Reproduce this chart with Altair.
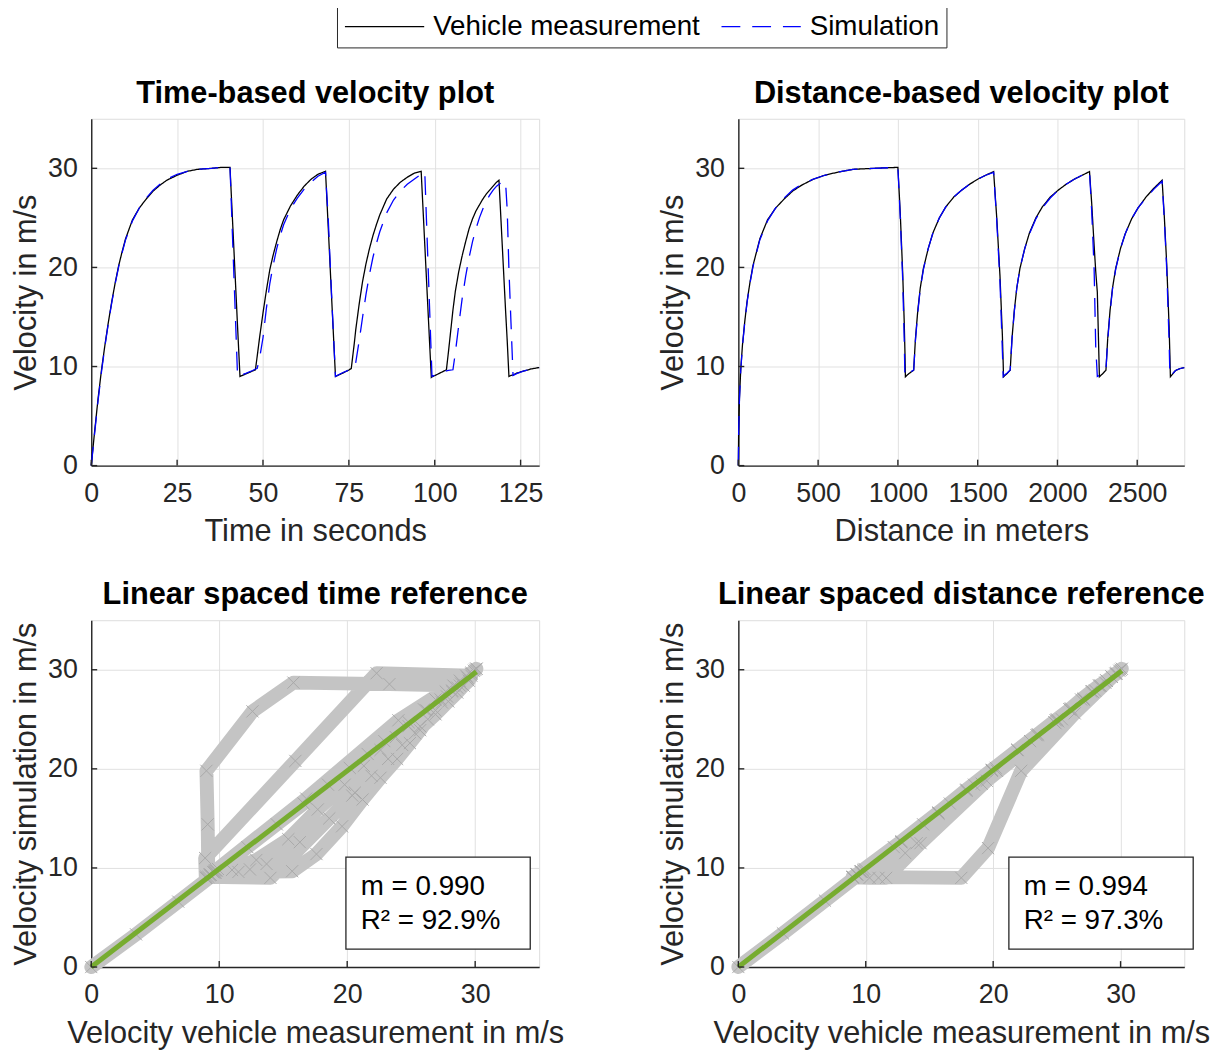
import altair as alt
import pandas as pd

# ---------------- data ----------------
series_names = ["Vehicle measurement", "Simulation"]

time_s = [0, 1, 2, 3, 4, 5, 6, 7, 8, 9, 10, 12, 14, 16, 18, 20, 22, 25, 28, 31, 35, 38, 40.4,
          41.0, 41.7, 42.6, 43.3,
          45, 47, 47.8, 48.3,
          49, 50, 51, 52, 53, 54, 55, 56, 58, 60, 62, 64, 66, 68.2,
          69, 70, 71.1,
          73, 75, 75.7, 76.6,
          77, 78, 79, 80, 81, 82, 83, 84, 86, 88, 90, 92, 94, 96.05,
          97.1, 98, 99.0, 99.2,
          101, 103.4, 104, 105.3,
          106, 107, 108, 109, 110, 111, 112, 113, 114, 115, 116, 117, 118, 118.7,
          119.5, 120.6, 121.1, 121.6, 122.2, 122.8,
          124, 126, 128, 130.4]
meas_time = [0, 3.5, 6.8, 9.7, 12.2, 14.5, 16.6, 18.5, 20.2, 21.6, 22.9, 24.8, 26.0, 26.9, 27.7, 28.3, 28.8, 29.3, 29.7, 29.9, 30.0, 30.1, 30.1,
             25.7, 20.6, 14.0, 9.0,
             9.25, 9.55, 9.67, 11.0,
             12.9, 15.4, 17.7, 19.8, 21.3, 22.6, 23.8, 24.8, 26.2, 27.3, 28.2, 28.9, 29.4, 29.7,
             24.0, 16.8, 9.0,
             9.3, 9.65, 9.8, 12.4,
             13.7, 16.3, 18.6, 20.4, 21.9, 23.2, 24.3, 25.3, 26.9, 27.9, 28.6, 29.1, 29.5, 29.7,
             22.3, 15.95, 8.9, 8.95,
             9.25, 9.67, 11.5, 15.7,
             17.6, 19.6, 21.2, 22.6, 23.9, 24.9, 25.7, 26.3, 26.9, 27.4, 27.8, 28.2, 28.6, 28.8,
             23.3, 15.8, 12.6, 9.0, 9.1, 9.15,
             9.35, 9.55, 9.75, 9.9]
sim_time = [0, 3.3, 6.6, 9.5, 12.1, 14.4, 16.5, 18.4, 20.1, 21.5, 22.8, 24.7, 26.0, 27.0, 27.8, 28.4, 28.9, 29.4, 29.7, 29.9, 30.0, 30.1, 30.1,
            24.3, 17.6, 9.0, 9.1,
            9.3, 9.6, 9.75, 9.8,
            10.8, 12.9, 15.9, 18.4, 20.3, 21.9, 23.2, 24.3, 25.9, 27.0, 27.9, 28.6, 29.2, 29.6,
            24.9, 17.0, 9.0,
            9.35, 9.65, 9.75, 9.85,
            10.4, 12.6, 15.0, 17.3, 19.3, 21.0, 22.4, 23.6, 25.5, 26.8, 27.7, 28.4, 28.9, 29.4,
            29.65, 20.8, 11.0, 9.0,
            9.3, 9.55, 9.6, 9.67,
            11.4, 14.2, 16.9, 19.1, 21.0, 22.6, 23.9, 25.0, 25.9, 26.7, 27.3, 27.8, 28.2, 28.4,
            28.55, 28.7, 25.8, 19.8, 14.4, 9.1,
            9.3, 9.55, 9.75, 9.9]

dist_m = [0, 2, 7, 15, 26, 40, 55, 73, 92, 135, 183, 234, 287, 340, 397, 470, 541, 620, 719, 850, 1000,
          1015, 1030, 1040, 1044, 1047,
          1070, 1099,
          1110, 1125, 1140, 1160, 1190, 1220, 1260, 1300, 1350, 1400, 1450, 1500, 1550, 1600,
          1620, 1640, 1655, 1660, 1662,
          1685, 1704,
          1715, 1730, 1745, 1765, 1795, 1825, 1865, 1905, 1955, 2005, 2055, 2105, 2155, 2201,
          2215, 2230, 2240, 2250, 2263,
          2285, 2304,
          2315, 2330, 2345, 2365, 2395, 2425, 2465, 2505, 2555, 2605, 2656,
          2670, 2685, 2700, 2705, 2708,
          2740, 2770, 2795]
meas_dist = [0, 3.5, 6.8, 9.7, 12.2, 14.5, 16.6, 18.5, 20.2, 22.9, 24.8, 26.0, 26.9, 27.7, 28.3, 28.9, 29.3, 29.6, 29.9, 30.0, 30.1,
             25.4, 19.5, 14.3, 11.6, 8.97,
             9.3, 9.63,
             12.8, 15.7, 17.9, 19.9, 21.9, 23.5, 25.0, 26.1, 27.1, 27.8, 28.4, 28.9, 29.3, 29.67,
             24.9, 19.1, 13.1, 10.3, 8.97,
             9.3, 9.63,
             12.8, 15.7, 17.9, 19.9, 21.9, 23.5, 25.0, 26.1, 27.1, 27.8, 28.4, 28.9, 29.3, 29.67,
             26.4, 22.2, 19.6, 17.5, 8.97,
             9.3, 9.63,
             12.8, 15.7, 17.9, 19.9, 21.9, 23.4, 24.9, 26.0, 27.1, 28.0, 28.8,
             25.1, 20.3, 14.0, 11.0, 8.97,
             9.6, 9.8, 9.9]
sim_dist = [0, 3.4, 6.7, 9.6, 12.1, 14.4, 16.5, 18.4, 20.1, 22.8, 24.7, 26.0, 27.0, 27.8, 28.4, 28.9, 29.3, 29.6, 29.9, 30.0, 30.1,
            25.0, 18.8, 12.5, 9.0, 9.05,
            9.35, 9.65,
            12.6, 15.5, 17.8, 19.8, 21.9, 23.5, 25.0, 26.1, 27.1, 27.8, 28.4, 28.9, 29.3, 29.6,
            24.6, 18.5, 11.5, 9.0, 9.05,
            9.35, 9.65,
            12.7, 15.6, 17.9, 19.9, 21.9, 23.4, 24.9, 26.0, 27.0, 27.8, 28.4, 28.9, 29.3, 29.67,
            25.6, 19.8, 12.0, 9.0, 9.1,
            9.35, 9.65,
            12.6, 15.5, 17.8, 19.8, 21.9, 23.4, 24.9, 26.0, 27.0, 27.9, 28.7,
            24.8, 19.8, 12.5, 9.0, 9.05,
            9.6, 9.8, 9.9]

time_ticks = [0, 25, 50, 75, 100, 125]
dist_ticks = [0, 500, 1000, 1500, 2000, 2500]
vel_ticks = [0, 10, 20, 30]

fit_x_time = [0.0, 30.1]
fit_y_time = [0.0, 29.8]
fit_x_dist = [0.0, 30.1]
fit_y_dist = [0.0, 29.9]
slopes = [0.990, 0.994]
r2_percent = [92.9, 97.3]

# ---------------- styling ----------------
FONT = "Liberation Sans"
AX = "#262626"
GRID = "#e1e1e1"
H = 350
W_LEFT = 452
W_RIGHT = 450


def make_axis(title, values, orient):
    common = dict(title=title, values=values, grid=True, gridColor=GRID, gridWidth=1,
                  ticks=False, domainColor=AX, domainWidth=1.4, format="d",
                  labelFont=FONT, labelFontSize=27, labelColor=AX, labelFlush=False,
                  labelOverlap=False, titleFont=FONT, titleFontSize=31,
                  titleFontWeight="normal", titleColor=AX)
    if orient == "x":
        common.update(labelPadding=15, titlePadding=11)
    else:
        common.update(labelPadding=14, titlePadding=5)
    return alt.Axis(**common)


def tick_layers(xticks, yticks, xscale, yscale, xfield, yfield):
    xt = alt.Chart(pd.DataFrame({xfield: xticks})).mark_rule(color=AX, strokeWidth=1.4).encode(
        x=alt.X(f"{xfield}:Q", scale=xscale), y=alt.value(H), y2=alt.value(H - 6))
    yt = alt.Chart(pd.DataFrame({yfield: yticks})).mark_rule(color=AX, strokeWidth=1.4).encode(
        y=alt.Y(f"{yfield}:Q", scale=yscale), x=alt.value(0), x2=alt.value(6))
    return xt, yt


def title_params(text):
    return alt.TitleParams(text=text, font=FONT, fontSize=31, fontWeight="bold", color="#000000",
                           anchor="middle", offset=9)


legend = alt.Legend(orient="none", legendX=248, legendY=-114, direction="horizontal", title=None,
                    symbolType="M-1,0L1,0", symbolSize=6400, symbolStrokeWidth=1.3,
                    labelFont=FONT, labelFontSize=28, labelColor="#000000", labelOffset=8,
                    columnPadding=20, padding=7, strokeColor=AX, fillColor="#ffffff",
                    labelLimit=400, clipHeight=28)


def velocity_panel(x, meas, sim, xdomain, xticks, title, xtitle, width):
    rows = [{"x": a, "v": b, "series": series_names[0]} for a, b in zip(x, meas)]
    rows += [{"x": a, "v": b, "series": series_names[1]} for a, b in zip(x, sim)]
    df = pd.DataFrame(rows)
    xs = alt.Scale(domain=xdomain, nice=False, zero=False)
    ys = alt.Scale(domain=[0, 35], nice=False)
    lines = alt.Chart(df).mark_line(strokeWidth=1.3).encode(
        x=alt.X("x:Q", scale=xs, axis=make_axis(xtitle, xticks, "x")),
        y=alt.Y("v:Q", scale=ys, axis=make_axis("Velocity in m/s", vel_ticks, "y")),
        color=alt.Color("series:N", scale=alt.Scale(domain=series_names, range=["#000000", "#0000ff"]),
                        legend=legend),
        strokeDash=alt.StrokeDash("series:N", scale=alt.Scale(domain=series_names, range=[[1, 0], [19, 12]]),
                                  legend=legend),
    )
    xt, yt = tick_layers(xticks, vel_ticks, xs, ys, "x", "v")
    return alt.layer(lines, xt, yt).properties(width=width, height=H, title=title_params(title))


def scatter_panel(meas, sim, fit_x, fit_y, slope, r2, title, width, box_left):
    df = pd.DataFrame({"mx": meas, "sy": sim, "i": list(range(len(meas)))})
    xs = alt.Scale(domain=[0, 35], nice=False)
    ys = alt.Scale(domain=[0, 35], nice=False)
    X = alt.X("mx:Q", scale=xs, axis=make_axis("Velocity vehicle measurement in m/s", vel_ticks, "x"))
    Y = alt.Y("sy:Q", scale=ys, axis=make_axis("Velocity simulation in m/s", vel_ticks, "y"))
    band = alt.Chart(df).mark_line(color="#c4c4c4", strokeWidth=14, strokeCap="round",
                                   strokeJoin="round").encode(x=X, y=Y, order="i:Q")
    pts = alt.Chart(df).mark_point(shape="M-1,-1L1,1M-1,1L1,-1", size=150, filled=False,
                                   color="#a8a8a8", strokeWidth=1, opacity=1).encode(x=X, y=Y)
    fit = alt.Chart(pd.DataFrame({"mx": fit_x, "sy": fit_y})).mark_line(
        color="#77AC30", strokeWidth=5).encode(x=X, y=Y)
    stats = pd.DataFrame({"m": [f"m = {slope:.3f}"], "r": [f"R\u00b2 = {r2:.1f}%"]})
    box = alt.Chart(stats).mark_rect(fill="#ffffff", stroke=AX, strokeWidth=1.3).encode(
        x=alt.value(box_left), x2=alt.value(box_left + 186), y=alt.value(239), y2=alt.value(332))
    t1 = alt.Chart(stats).mark_text(align="left", baseline="alphabetic", font=FONT, fontSize=28,
                                    color="#000000").encode(x=alt.value(box_left + 15), y=alt.value(277), text="m:N")
    t2 = alt.Chart(stats).mark_text(align="left", baseline="alphabetic", font=FONT, fontSize=28,
                                    color="#000000").encode(x=alt.value(box_left + 15), y=alt.value(312), text="r:N")
    xt, yt = tick_layers(vel_ticks, vel_ticks, xs, ys, "mx", "sy")
    return alt.layer(band, pts, fit, xt, yt, box, t1, t2).properties(
        width=width, height=H, title=title_params(title))


tl = velocity_panel(time_s, meas_time, sim_time, [0, 130.4], time_ticks,
                    "Time-based velocity plot", "Time in seconds", W_LEFT)
tr = velocity_panel(dist_m, meas_dist, sim_dist, [0, 2795], dist_ticks,
                    "Distance-based velocity plot", "Distance in meters", W_RIGHT)
bl = scatter_panel(meas_time, sim_time, fit_x_time, fit_y_time, slopes[0], r2_percent[0],
                   "Linear spaced time reference", W_LEFT, 257)
br = scatter_panel(meas_dist, sim_dist, fit_x_dist, fit_y_dist, slopes[1], r2_percent[1],
                   "Linear spaced distance reference", W_RIGHT, 273)

chart = alt.concat(tl, tr, bl, br, columns=2, spacing={"row": 156, "column": 201},
                   bounds="flush").resolve_legend(color="shared", strokeDash="shared").properties(
    padding={"left": 2, "top": -8, "right": 4, "bottom": 4}
).configure_view(stroke=None).configure(background="#ffffff")

chart.save("out.html", embed_options={"renderer": "svg", "actions": False})
